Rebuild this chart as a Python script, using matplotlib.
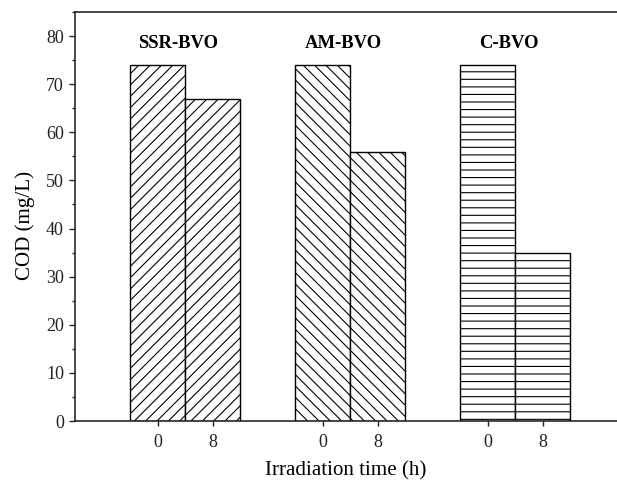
import matplotlib
matplotlib.use("Agg")
import matplotlib.pyplot as plt
from matplotlib.ticker import MultipleLocator

# data
samples = ["SSR-BVO", "AM-BVO", "C-BVO"]
times = ["0", "8"]
cod_values = [
    [74, 67],   # SSR-BVO
    [74, 56],   # AM-BVO
    [74, 35],   # C-BVO
]
hatches = ["////", "\\\\\\\\", "---"]

DPI = 136
W, H = 617, 481


def pt(px):
    # pixels -> points at the chosen dpi
    return px * 72.0 / DPI


plt.rcParams["font.family"] = ["Liberation Serif", "DejaVu Serif"]
plt.rcParams["hatch.linewidth"] = pt(1.1)

fig = plt.figure(figsize=(W / DPI, H / DPI), dpi=DPI)
# axes runs past the right edge of the picture, as in the reference
ax = fig.add_axes([75 / W, 1 - 421 / H, 1 - 75 / W, (421 - 12) / H])

group_step = 3.0
bar_w = 1.0
tick_pos = []
tick_lab = []
for i, name in enumerate(samples):
    center = i * group_step
    for j, t in enumerate(times):
        x = center + (j - 0.5) * bar_w
        ax.bar(x, cod_values[i][j], width=bar_w, facecolor="white",
               edgecolor="black", linewidth=pt(1.4), hatch=hatches[i])
        tick_pos.append(x)
        tick_lab.append(t)
    ax.text(center - 0.12, 78.5, name, ha="center", va="center",
            fontsize=pt(18.7), fontweight="bold")

ax.set_xlim(-2.0, 7.85)
ax.set_ylim(0, 85)
ax.set_xticks(tick_pos)
ax.set_xticklabels(tick_lab)
ax.yaxis.set_major_locator(MultipleLocator(10))
ax.yaxis.set_minor_locator(MultipleLocator(5))

ax.spines["right"].set_visible(False)
for s in ["left", "bottom", "top"]:
    ax.spines[s].set_linewidth(pt(1.6))
    ax.spines[s].set_color("#222222")

ax.tick_params(axis="y", which="major", direction="out", length=pt(6),
               width=pt(1.4), labelsize=pt(18), pad=pt(5), colors="#222222")
ax.tick_params(axis="y", which="minor", direction="out", length=pt(3.5),
               width=pt(1.4), colors="#222222")
ax.tick_params(axis="x", which="major", direction="out", length=pt(5),
               width=pt(1.4), labelsize=pt(18), pad=pt(8), colors="#222222")
ax.tick_params(axis="x", which="minor", bottom=False)

ax.set_xlabel("Irradiation time (h)", fontsize=pt(21))
ax.xaxis.set_label_coords((346 - 75) / 542, (421 - 461) / 409)
ax.xaxis.label.set_va("top")
ax.set_ylabel("COD (mg/L)", fontsize=pt(21))
ax.yaxis.set_label_coords((35 - 75) / 542, (421 - 225) / 409)

fig.savefig("out.png", dpi=DPI)
